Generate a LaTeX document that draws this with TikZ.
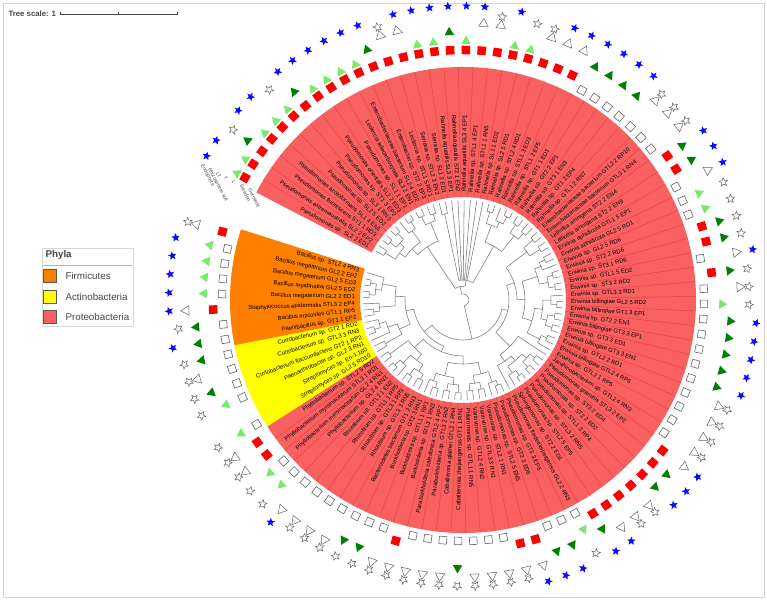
\documentclass[tikz,border=0pt]{standalone}
\usepackage{fontspec}
\setmainfont{Liberation Sans}
\usetikzlibrary{shapes.geometric}
\definecolor{proteored}{RGB}{249,96,96}
\definecolor{proteoline}{RGB}{236,62,62}
\definecolor{firmorange}{RGB}{255,128,0}
\definecolor{actinoyellow}{RGB}{255,255,0}
\definecolor{swedred}{RGB}{255,0,0}
\definecolor{lightgr}{RGB}{125,232,110}
\definecolor{darkgr}{RGB}{0,128,0}
\definecolor{endoblue}{RGB}{10,10,255}
\definecolor{branchgrey}{RGB}{120,120,120}
\definecolor{symgrey}{RGB}{100,100,100}
\definecolor{textgrey}{RGB}{70,70,70}
% angle of leaf #1, clockwise from the gap
\pgfmathdeclarefunction{la}{1}{\pgfmathparse{150.7-(#1-1)*3.61}}

\begin{document}
\begin{tikzpicture}[x=1pt,y=1pt,
    leaflabel/.style={font=\fontsize{5.9}{6.5}\selectfont, inner sep=0pt},
    ringtitle/.style={font=\fontsize{5}{6}\selectfont, textgrey, inner sep=0pt, rotate=-62, anchor=west},
    germsq/.style={rectangle, draw=symgrey, fill=white, line width=0.6pt, minimum size=7.5pt, inner sep=0pt},
    swedsq/.style={rectangle, fill=swedred, minimum size=8.5pt, inner sep=0pt},
    tri/.style={regular polygon, regular polygon sides=3, minimum size=11pt, inner sep=0pt},
    ltri/.style={tri, fill=lightgr},
    dtri/.style={tri, fill=darkgr},
    otri/.style={tri, draw=symgrey, fill=white, line width=0.5pt},
    fivestar/.style={star, star points=5, star point ratio=2.3, minimum size=9pt, inner sep=0pt},
    ostar/.style={fivestar, draw=symgrey, fill=white, line width=0.5pt},
    bstar/.style={fivestar, fill=endoblue},
    branch/.style={draw=branchgrey, line width=0.55pt},
    legendtext/.style={font=\fontsize{9.8}{11}\selectfont, textgrey, anchor=west},
]
\useasboundingbox (-463,-300) rectangle (304,300);
\draw[gray!35] (-460,-297) rectangle (301,297);

% Tree scale
\node[font=\bfseries\fontsize{7.8}{9}\selectfont, textgrey, anchor=west] (scaletext) at (-458,286) {Tree scale: 1};
\draw[textgrey, line width=0.5pt] (-403,286) -- (-286,286);
\foreach \x in {-403,-345,-286} \draw[textgrey, line width=0.5pt] (\x,284.5) -- (\x,287.5);

% Phylum sectors
\pgfmathsetmacro{\ra}{la(1)+1.805}\pgfmathsetmacro{\rb}{la(83)-1.805}
\fill[proteored] (\ra:103) arc[start angle=\ra, end angle=\rb, radius=103] -- (\rb:233) arc[start angle=\rb, end angle=\ra, radius=233] -- cycle;
\pgfmathsetmacro{\ya}{la(84)+1.805}\pgfmathsetmacro{\yb}{la(89)-1.805}
\fill[actinoyellow] (\ya:103) arc[start angle=\ya, end angle=\yb, radius=103] -- (\yb:233) arc[start angle=\yb, end angle=\ya, radius=233] -- cycle;
\pgfmathsetmacro{\oa}{la(90)+1.805}\pgfmathsetmacro{\ob}{la(97)-1.805}
\fill[firmorange] (\oa:103) arc[start angle=\oa, end angle=\ob, radius=103] -- (\ob:233) arc[start angle=\ob, end angle=\oa, radius=233] -- cycle;
\foreach \i in {1,...,82} {
  \pgfmathsetmacro{\s}{la(\i)-1.805}
  \draw[proteoline, line width=0.45pt] (\s:103) -- (\s:233);
}

% Tree: internal nodes as position/radius/parent radius/first child/last child
\foreach \p/\r/\pr/\a/\b in {
  14.4/14/6/8.44/20.3, 8.44/64/14/5.375/11.5, 5.375/72/64/3/7.75, 3/79/72/1.5/4.5,
  1.5/91/79/1/2, 4.5/85/79/3.5/5.5, 3.5/93/85/3/4, 5.5/93/85/5/6, 7.75/86/72/7/8.5,
  8.5/94/86/8/9, 11.5/84/64/10.5/12.5, 10.5/93/84/10/11, 12.5/91/84/12/13,
  20.3/20/14/14.5/26.05, 14.5/88/20/14/15, 26.05/62/20/23.6/28.5, 23.6/80/62/22.5/24.75,
  22.5/92/80/22/23, 24.75/86/80/24/25.5, 25.5/94/86/25/26, 28.5/82/62/27.5/29.5,
  27.5/92/82/27/28, 29.5/90/82/29/30,
  64.1/40/6/46.35/81.8, 46.35/46/40/37.6/55.1, 37.6/54/46/32.5/42.65, 32.5/80/54/31.5/33.5,
  31.5/92/80/31/32, 33.5/92/80/33/34, 42.65/62/54/37.9/47.4, 37.9/78/62/36.25/39.5,
  36.25/85/78/35.5/37, 35.5/91/85/35/36, 39.5/87/78/38.5/40.5, 38.5/93/87/38/39,
  40.5/93/87/40/41, 47.4/72/62/44.6/50.25, 44.6/80/72/42.75/46.5, 42.75/88/80/42/43.5,
  43.5/94/88/43/44, 46.5/86/80/45.5/47.5, 45.5/93/86/45/46, 47.5/93/86/47/48,
  50.25/86/72/49.5/51, 49.5/92/86/49/50, 55.1/66/46/52/58.2, 58.2/74/66/56.4/60,
  56.4/80/74/54.5/58.25, 54.5/86/80/53.5/55.5, 53.5/92/86/53/54, 55.5/93/86/55/56,
  58.25/88/80/57.5/59, 57.5/94/88/57/58,
  81.8/50/40/73.98/89.65, 73.98/56/50/67.65/80.3, 67.65/64/56/63.9/71.4, 63.9/76/64/62.25/65.5,
  62.25/87/76/61.5/63, 61.5/92/87/61/62, 65.5/84/76/64.5/66.5, 64.5/91/84/64/65,
  66.5/91/84/66/67, 71.4/78/64/69.5/73.25, 69.5/85/78/68.5/70.5, 68.5/93/85/68/69,
  70.5/92/85/70/71, 73.25/86/78/72.5/74, 72.5/92/86/72/73, 80.3/68/56/78.1/82.5,
  78.1/76/68/76.5/79.75, 76.5/84/76/75.5/77.5, 75.5/90/84/75/76, 77.5/92/84/77/78,
  79.75/87/76/79/80.5, 80.5/94/87/80/81, 82.5/91/68/82/83,
  89.65/58/50/85.8/93.5, 85.8/70/58/84.5/87.1, 84.5/89/70/84/85, 87.1/80/70/86/88.25,
  88.25/87/80/87.5/89, 87.5/93/87/87/88, 93.5/68/58/91.25/95.75, 91.25/84/68/90.5/92,
  90.5/90/84/90/91, 95.75/82/68/94.5/97, 94.5/88/82/93.5/95.5, 93.5/94/88/93/94,
  95.5/94/88/95/96} {
  \pgfmathsetmacro{\tp}{la(\p)}\pgfmathsetmacro{\ta}{la(\a)}\pgfmathsetmacro{\tb}{la(\b)}
  \draw[branch] (\tp:\pr) -- (\tp:\r);
  \draw[branch] (\ta:\r) arc[start angle=\ta, end angle=\tb, radius=\r];
}
% root
\pgfmathsetmacro{\ta}{la(14.4)}\pgfmathsetmacro{\tb}{la(64.1)}
\draw[branch] (\ta:6) arc[start angle=\ta, end angle=\tb, radius=6];
% terminal branches: leaf/parent radius
\foreach \i/\pr in {1/91,2/91,3/93,4/93,5/93,6/93,7/86,8/94,9/94,10/93,11/93,12/91,13/91,
  14/88,15/88,16/20,17/20,18/20,19/20,20/20,21/20,22/92,23/92,24/86,25/94,26/94,27/92,28/92,
  29/90,30/90,31/92,32/92,33/92,34/92,35/91,36/91,37/85,38/93,39/93,40/93,41/93,42/88,43/94,
  44/94,45/93,46/93,47/93,48/93,49/92,50/92,51/86,52/66,53/92,54/92,55/93,56/93,57/94,58/94,
  59/88,60/74,61/92,62/92,63/87,64/91,65/91,66/91,67/91,68/93,69/93,70/92,71/92,72/92,73/92,
  74/86,75/90,76/90,77/92,78/92,79/87,80/94,81/94,82/91,83/91,84/89,85/89,86/80,87/93,88/93,
  89/87,90/90,91/90,92/84,93/94,94/94,95/94,96/94,97/82} {
  \pgfmathsetmacro{\t}{la(\i)}
  \draw[branch] (\t:\pr) -- (\t:100);
}

% Leaves: index/country/tissue/source/name
\foreach \i/\co/\tr/\st/\nm in {
1/2/1/2/Pseudomonas sp. SL2 2 ED1, 2/2/1/2/Pseudomonas extremaustralis SL2 2 EP2, 3/2/2/1/Pseudomonas fluorescens ST1 1 RD3,
4/2/1/2/Pseudomonas azotoformans SL1 4 EN1, 5/2/1/2/Pseudomonas sp. SL2 5 ED2, 6/2/1/1/Pseudomonas sp. SL3 1 RN3,
7/2/2/2/Pseudomonas sp. ST1 3 EP2, 8/2/1/2/Pseudomonas orientalis SL2 2 ED3, 9/2/1/2/Pseudomonas sp. SL1 1 EP1,
10/2/1/2/Leclercia adecarboxylata SL3 2 EN1, 11/2/1/2/Enterobacteriaceae bacterium SL2 4 ED2, 12/2/2/2/Enterobacter sp. ST2 2 EP3,
13/2/3/1/Leclercia sp. STL1 5 RD1, 14/2/3/2/Serratia sp. STL2 3 EN2, 15/2/1/2/Serratia sp. SL1 2 ED1,
16/2/1/2/Rahnella aquatilis SL3 3 EP1, 17/2/2/2/Rahnella aquatilis ST2 1 EN2, 18/2/1/2/Rahnella aquatilis SL3 4 EP1,
19/2/3/2/Rahnella sp. STL1 4 EP1, 20/2/3/1/Rahnella sp. STL1 1 RN5, 21/2/1/2/Rahnella sp. SL1 1 ED2,
22/2/1/1/Rahnella sp. SL2 5 RD1, 23/2/3/1/Rahnella sp. STL2 4 RD1, 24/2/3/2/Rahnella sp. STL1 3 ED3,
25/2/3/2/Rahnella sp. STL1 2 EP5, 26/1/2/2/Rahnella sp. GT1 1 ED1, 27/1/2/2/Rahnella sp. GT2 2 EP1,
28/1/2/2/Rahnella sp. GT3 1 EN3, 29/1/2/2/Rahnella sp. GT1 2 EP4, 30/1/3/1/Rahnella sp. GTL1 2 RN7,
31/1/3/1/Enterobacteriaceae bacterium GTL2 2 RP10, 32/1/3/1/Enterobacteriaceae bacterium GTL3 1 RN4, 33/2/2/2/Lelliottia amnigena ST2 2 EN4,
34/2/2/2/Lelliottia amnigena ST2 2 EN9, 35/1/3/2/Erwinia aphidicola GTL1 5 EP1, 36/1/1/1/Erwinia aphidicola GL2 5 RD1,
37/1/1/1/Erwinia sp. GL2 5 RD6, 38/2/2/1/Erwinia sp. ST2 2 RD6, 39/2/2/1/Erwinia sp. ST3 1 RD6,
40/1/3/2/Erwinia sp. GTL1 5 ED2, 41/2/2/1/Erwinia sp. ST3 2 RD2, 42/1/3/1/Erwinia sp. GTL3 3 RD1,
43/1/1/1/Erwinia billingiae GL2 5 RD2, 44/1/2/2/Erwinia billingiae GT1 3 EP1, 45/1/2/2/Erwinia sp. GT2 2 EN1,
46/1/2/2/Erwinia billingiae GT3 3 EP1, 47/1/2/2/Erwinia sp. GT3 3 ED1, 48/1/2/2/Erwinia billingiae GT3 3 EN1,
49/1/3/1/Erwinia sp. GTL2 2 RD1, 50/1/3/1/Erwinia billingiae GTL2 4 RP6, 51/1/3/1/Erwinia sp. GTL2 1 RP5,
52/1/3/1/Janthinobacterium sp. GTL2 4 RN3, 53/2/3/2/Pseudomonas graminis STL3 2 EP2, 54/2/2/2/Pseudomonas sp. ST3 2 ED4,
55/2/2/2/Pseudomonas sp. ST2 2 ED2, 56/2/3/1/Pseudomonas sp. STL1 3 RP4, 57/2/3/1/Pseudomonas sp. STL3 2 RN5,
58/2/3/2/Pseudomonas sp. STL2 5 EP5, 59/2/2/2/Sphingomonas sp. ST2 2 ED1, 60/1/1/1/Pseudomonas frederiksbergensis GL2 2 RN3,
61/1/2/2/Pseudomonas sp. GT3 3 EP5, 62/1/2/2/Pseudomonas sp. GT3 3 ED6, 63/2/3/2/Pseudomonas sp. STL2 5 EN5,
64/2/3/1/Variovorax sp. STL2 1 RN1, 65/1/3/1/Variovorax sp. GTL3 3 RN1, 66/1/3/1/Variovorax sp. GTL2 4 RN2,
67/1/3/1/Polaromonas sp. GTL1 1 RN5, 68/1/2/1/Caballeronia zhejiangensis GT1 1 RN1, 69/1/3/1/Caballeronia glathei GTL2 1 RN4,
70/1/3/1/Paraburkholderia sp. GTL3 2 RN2, 71/1/3/1/Paraburkholderia caledonica GTL2 4 RP2, 72/2/3/1/Burkholderia sp. STL3 1 RN3,
73/1/3/1/Burkholderia sp. GTL1 1 RP1, 74/1/2/1/Burkholderia sp. GT2 3 RN1, 75/1/2/1/Bacteroidetes bacterium GT1 2 RN3,
76/1/3/1/Rhizobium sp. GTL3 3 RN5, 77/1/3/1/Rhizobium sp. GTL3 1 RP3, 78/1/3/1/Rhizobium sp. GTL1 1 RP5,
79/1/3/2/Rhizobium sp. GTL2 1 EN2, 80/1/1/1/Phyllobacterium sp. GL2 4 RN3, 81/1/1/1/Phyllobacterium myrsinacearum GL2 4 RN1,
82/2/3/1/Phyllobacterium myrsinacearum STL3 1 RD1, 83/2/3/1/Phyllobacterium sp. STL2 5 RD2, 84/1/1/1/Streptomyces sp. GL2 5 RD10,
85/0/0/0/Streptomyces sp. En-1 160, 86/1/1/1/Paenarthrobacter sp. GL2 3 RN1, 87/1/2/1/Curtobacterium flaccumfaciens GT2 1 RP2,
88/1/3/1/Curtobacterium sp. GTL3 3 RN3, 89/1/2/1/Curtobacterium sp. GT2 1 RD2, 90/1/2/2/Paenibacillus sp. GT1 1 EP2,
91/1/2/1/Bacillus mycoides GT1 1 RP5, 92/2/3/2/Staphylococcus epidermidis STL3 2 EP4, 93/1/1/2/Bacillus megaterium GL2 2 ED1,
94/1/1/2/Bacillus aryabhattai GL2 5 ED2, 95/1/1/2/Bacillus megaterium GL2 5 ED3, 96/1/1/2/Bacillus megaterium GL2 2 EP2,
97/2/3/1/Bacillus sp. STL2 4 RN3} {
  \pgfmathsetmacro{\t}{la(\i)}
  \pgfmathsetmacro{\flip}{(\t>90 || \t<-90) ? 1 : 0}
  \ifdim\flip pt>0.5pt
    \node[leaflabel, anchor=east, rotate=\t-180] (lab-\i) at (\t:108) {\nm};
  \else
    \node[leaflabel, anchor=west, rotate=\t] (lab-\i) at (\t:108) {\nm};
  \fi
  \ifcase\co\or
    \node[germsq, rotate=\t] (cty-\i) at (\t:241) {};
  \or
    \node[swedsq, rotate=\t] (cty-\i) at (\t:250) {};
  \fi
  \ifcase\tr\or
    \node[ltri, rotate=\t-90] (tis-\i) at (\t:259) {};
  \or
    \node[dtri, rotate=\t-90] (tis-\i) at (\t:268) {};
  \or
    \node[otri, rotate=\t-90] (tis-\i) at (\t:277) {};
  \fi
  \ifcase\st\or
    \node[ostar, rotate=\t-90] (src-\i) at (\t:286) {};
  \or
    \node[bstar, rotate=\t-90] (src-\i) at (\t:294) {};
  \fi
}

% Ring titles at the gap
\foreach \r/\txt in {241/Germany, 250/Sweden, 259/L, 268/T, 277/LT, 286/Rhizosphere soil, 294/Endophyte} {
  \node[ringtitle] (ring-\r) at (152.6:\r) {\txt};
}

% Legend
\draw[gray!30, fill=white] (-421,52) rectangle (-330,-26);
\node[legendtext, font=\bfseries\fontsize{9.8}{11}\selectfont] (phyla) at (-421,45) {Phyla};
\draw[gray!60, line width=0.8pt] (-421,35) -- (-331,35);
\foreach \y/\c/\txt in {24/firmorange/Firmicutes, 3/actinoyellow/Actinobacteria, -17/proteored/Proteobacteria} {
  \node[draw=gray!70!black, fill=\c, minimum size=13pt, inner sep=0pt] (sw-\c) at (-413,\y) {};
  \node[legendtext] (lg-\c) at (-401,\y) {\txt};
}
\end{tikzpicture}
\end{document}
